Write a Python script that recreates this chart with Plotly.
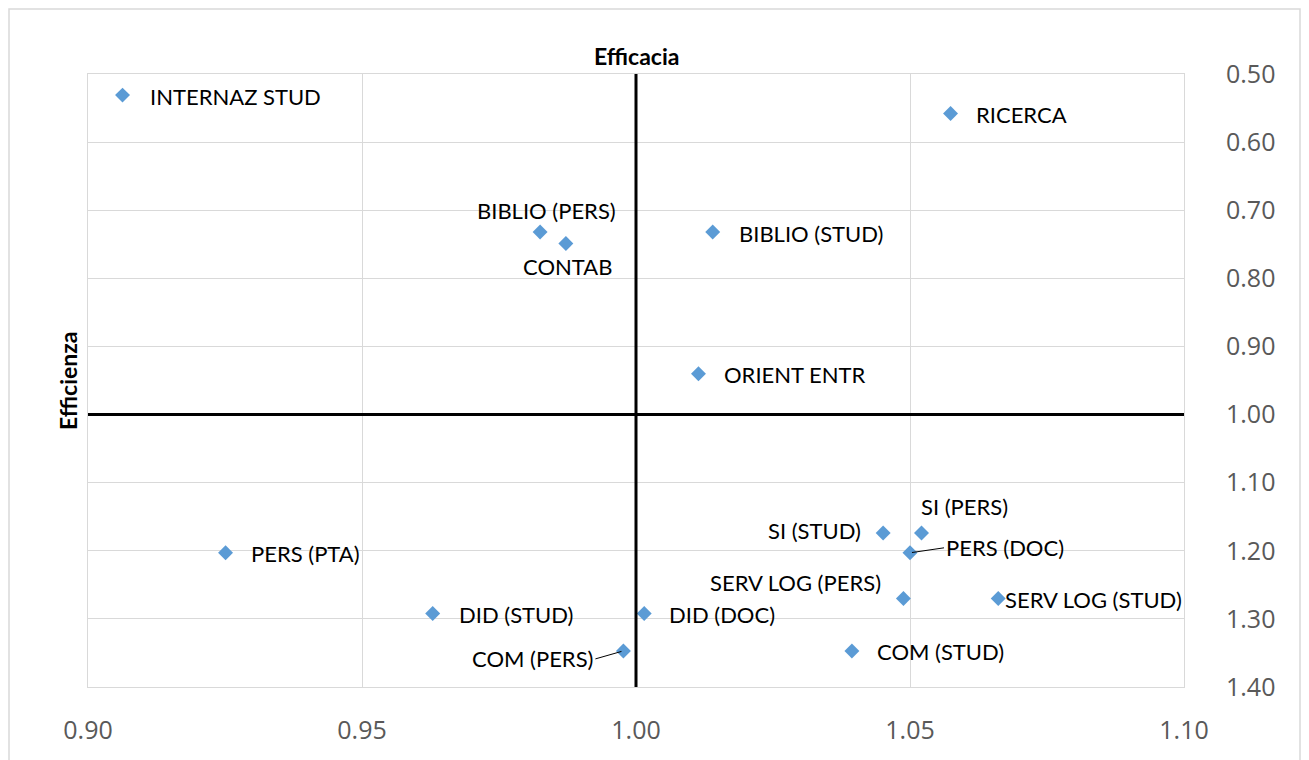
import plotly.graph_objects as go

# ---- data ----
labels = ["INTERNAZ STUD", "RICERCA", "BIBLIO (PERS)", "CONTAB", "BIBLIO (STUD)",
          "ORIENT ENTR", "SI (STUD)", "SI (PERS)", "PERS (DOC)", "PERS (PTA)",
          "SERV LOG (PERS)", "SERV LOG (STUD)", "DID (STUD)", "DID (DOC)",
          "COM (PERS)", "COM (STUD)"]
efficacia = [0.9063, 1.0574, 0.9825, 0.9872, 1.0140,
             1.0114, 1.0451, 1.0521, 1.0500, 0.9251,
             1.0488, 1.0661, 0.9629, 1.0015,
             0.9977, 1.0394]
efficienza = [0.531, 0.558, 0.732, 0.749, 0.732,
              0.940, 1.174, 1.174, 1.203, 1.203,
              1.270, 1.270, 1.292, 1.292,
              1.347, 1.347]
x_ticks = [0.90, 0.95, 1.00, 1.05, 1.10]
y_ticks = [0.50, 0.60, 0.70, 0.80, 0.90, 1.00, 1.10, 1.20, 1.30, 1.40]

# ---- label placement (style) ----
# (anchor, xshift px, yshift px down, arrow?)
placement = {
    "INTERNAZ STUD": ("left", 25, 1, False),
    "RICERCA": ("left", 23, 1, False),
    "BIBLIO (PERS)": ("center", 6, -22, False),
    "CONTAB": ("center", 2, 23, False),
    "BIBLIO (STUD)": ("left", 24, 1, False),
    "ORIENT ENTR": ("left", 24, 1, False),
    "SI (STUD)": ("right", -20, -3, False),
    "SI (PERS)": ("center", 43, -27, False),
    "PERS (DOC)": ("left", 34, -5, True),
    "PERS (PTA)": ("left", 23, 1, False),
    "SERV LOG (PERS)": ("center", -108, -16, False),
    "SERV LOG (STUD)": ("left", 5, 1, False),
    "DID (STUD)": ("left", 24, 1, False),
    "DID (DOC)": ("left", 23, 1, False),
    "COM (PERS)": ("right", -28, 8, True),
    "COM (STUD)": ("left", 23, 1, False),
}

LABEL_FONT = dict(family="Lato, Carlito, sans-serif", size=22, color="#000000")
TICK_FONT = dict(family="Open Sans, sans-serif", size=25, color="#595959")
TITLE_FONT = dict(family="Lato, Carlito, sans-serif", size=23, color="#000000")
GRID = "#d9d9d9"
MARKER = "#5B9BD5"

# page has an 8px body margin; plot area spans x 88..1184, y 74..687 on the page
PL, PT, PW, PH = 88, 74, 1096, 613

fig = go.Figure()
fig.add_trace(go.Scatter(
    x=efficacia, y=efficienza, mode="markers",
    marker=dict(symbol="diamond", size=11.5, color=MARKER),
    hoverinfo="text", text=labels, showlegend=False,
))

annotations = []
for lab, xv, yv in zip(labels, efficacia, efficienza):
    anchor, dx, dy, arrow = placement[lab]
    if arrow:
        annotations.append(dict(
            x=xv, y=yv, xref="x", yref="y", text=lab, showarrow=True,
            ax=dx, ay=dy, xanchor=anchor, yanchor="middle",
            arrowhead=0, arrowwidth=1, arrowcolor="#000000", standoff=2,
            font=LABEL_FONT,
        ))
    else:
        annotations.append(dict(
            x=xv, y=yv, xref="x", yref="y", text=lab, showarrow=False,
            xanchor=anchor, yanchor="middle", xshift=dx, yshift=-dy,
            font=LABEL_FONT,
        ))

annotations.append(dict(
    x=1.0, xref="x", y=(PT + PH - 56) / PH, yref="paper", text="<b>Efficacia</b>",
    showarrow=False, xanchor="center", yanchor="middle", font=TITLE_FONT,
))
annotations.append(dict(
    x=(68 - PL) / PW, xref="paper", y=(PT + PH - 381) / PH, yref="paper",
    text="<b>Efficienza</b>",
    showarrow=False, xanchor="center", yanchor="middle", textangle=-90, font=TITLE_FONT,
))

shapes = [
    dict(type="line", xref="x", yref="paper", x0=1.0, x1=1.0, y0=0, y1=1,
         line=dict(color="#000000", width=3), layer="above"),
    dict(type="line", xref="paper", yref="y", x0=0, x1=1, y0=1.0, y1=1.0,
         line=dict(color="#000000", width=3), layer="above"),
    dict(type="rect", xref="paper", yref="paper",
         x0=(9 - PL) / PW, x1=(1300 - PL) / PW,
         y0=(PT + PH - 775) / PH, y1=(PT + PH - 9) / PH,
         line=dict(color="#d9d9d9", width=1.5), layer="below"),
]

fig.update_layout(
    width=1301, height=752,
    margin=dict(l=PL - 8, r=125, t=PT - 8, b=73),
    paper_bgcolor="white", plot_bgcolor="white",
    annotations=annotations, shapes=shapes,
    xaxis=dict(range=[0.90, 1.10], tickvals=x_ticks, tickformat=".2f",
               showgrid=True, gridcolor=GRID, gridwidth=1, zeroline=False,
               showline=True, linecolor=GRID, linewidth=1, mirror=True,
               ticks="", ticklabelstandoff=21, tickfont=TICK_FONT),
    yaxis=dict(range=[1.40, 0.50], tickvals=y_ticks, tickformat=".2f", side="right",
               showgrid=True, gridcolor=GRID, gridwidth=1, zeroline=False,
               showline=True, linecolor=GRID, linewidth=1, mirror=True,
               ticks="", ticklabelstandoff=36, tickfont=TICK_FONT),
)

fig.write_html("out.html")
